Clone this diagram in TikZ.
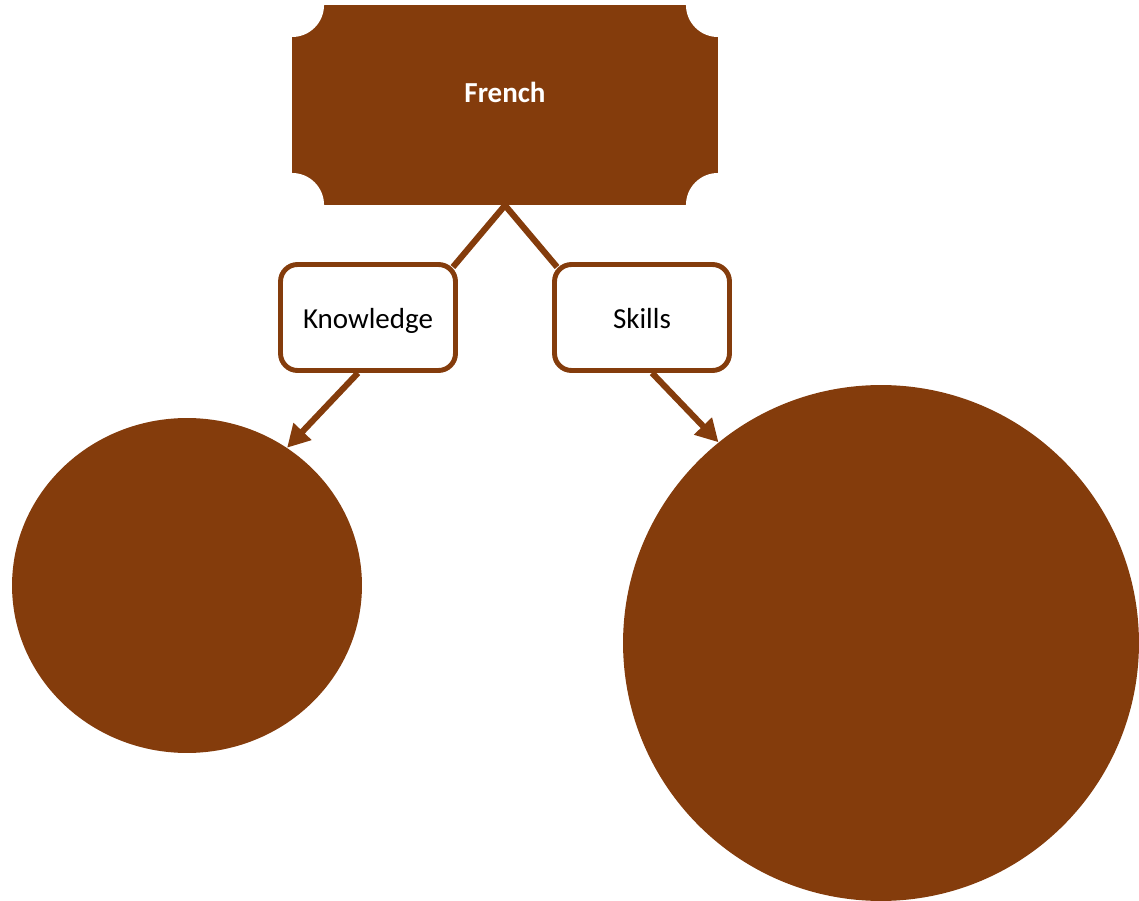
\documentclass[tikz,border=0pt]{standalone}
\usepackage{fontspec}
\setmainfont{Carlito}
\usetikzlibrary{positioning,shapes.geometric,arrows.meta,backgrounds}
\definecolor{rust}{HTML}{843C0C}

\begin{document}
\begin{tikzpicture}[x=0.02cm, y=-0.02cm,
    topic/.style={rectangle, fill=rust, text=white,
      font=\fontsize{16.5}{20}\selectfont\bfseries,
      minimum width=8.52cm, minimum height=4cm, inner sep=0pt, text depth=0.5cm,
      path picture={
        \foreach \c in {north west,north east,south west,south east}
          \fill[white] (path picture bounding box.\c) circle (0.64cm);}},
    branch/.style={rectangle, rounded corners=0.34cm, draw=rust, line width=2.8pt,
      fill=white, font=\fontsize{16.5}{20}\selectfont,
      text height=0.44cm, text depth=0cm,
      minimum width=3.5cm, minimum height=2.12cm, inner sep=0pt},
    blob/.style={fill=rust, inner sep=0pt},
    link/.style={draw=rust, line width=3.5pt},
    pointer/.style={link, -{Triangle[length=0.45cm,width=0.47cm]}}]

    \useasboundingbox (0,0) rectangle (1139,901);

    \node[topic] (french) at (505,105) {French};

    \node[branch] (knowledge) at (368,317.5) {Knowledge};
    \node[branch] (skills) at (642,317.5) {Skills};

    \node[blob, ellipse, minimum width=7cm, minimum height=6.7cm] (kblob) at (187,585.5) {};
    \node[blob, circle, minimum size=10.32cm] (sblob) at (881,643) {};

    % links under the boxes
    \begin{scope}[on background layer]
    \draw[link] (french.south) -- ([xshift=-0.1cm,yshift=-0.1cm]knowledge.north east);
    \draw[link] (french.south) -- ([xshift=0.1cm,yshift=-0.1cm]skills.north west);
    \end{scope}

    \draw[pointer] ([xshift=-0.2cm]knowledge.south) -- (kblob.54);
    \draw[pointer] ([xshift=0.2cm]skills.south) -- (sblob.129);
\end{tikzpicture}
\end{document}
